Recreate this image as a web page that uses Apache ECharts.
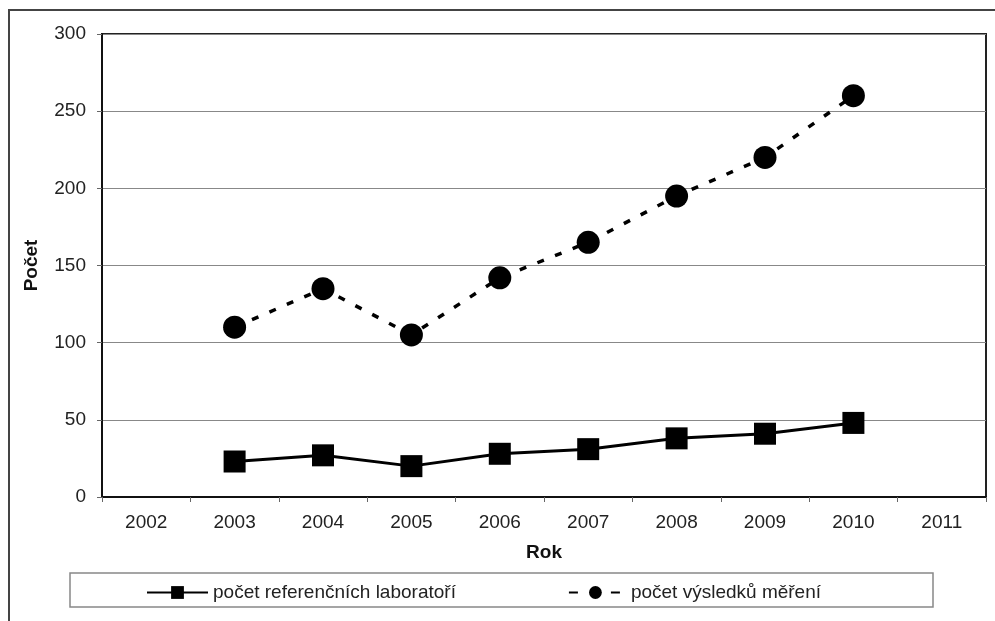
<!DOCTYPE html>
<html><head><meta charset="utf-8">
<script src="https://cdn.jsdelivr.net/npm/echarts@6/dist/echarts.min.js"></script>
<style>html,body{margin:0;padding:0;background:#fff}#c{width:995px;height:621px}</style>
</head><body><div id="c"></div>
<script>
const years = ['2002','2003','2004','2005','2006','2007','2008','2009','2010','2011'];
const labs = [null, 23, 27, 20, 28, 31, 38, 41, 48, null];
const results = [null, 110, 135, 105, 142, 165, 195, 220, 260, null];
const yTicks = [0, 50, 100, 150, 200, 250, 300];
const seriesNames = ['počet referenčních laboratoří', 'počet výsledků měření'];

const chart = echarts.init(document.getElementById('c'));
const font = 'Liberation Sans, Arial, sans-serif';
chart.setOption({
  backgroundColor: '#fff',
  animation: false,
  graphic: [
    {type:'rect', shape:{x:9, y:10, width:1000, height:700}, style:{fill:'none', stroke:'#444', lineWidth:2}, z:-1},
    {type:'rect', shape:{x:70, y:573, width:863, height:34}, style:{fill:'#fff', stroke:'#888', lineWidth:1.5}, z:0}
  ],
  grid: {left:102, right:9, top:34, bottom:124, show:true, borderColor:'#222', borderWidth:2},
  legend: {
    left: 141, top: 578, itemWidth: 61, itemHeight: 16, itemGap: 108,
    textStyle: {fontFamily: font, fontSize: 19, color: '#222'},
    data: [
      {name: seriesNames[0]},
      {name: seriesNames[1], lineStyle: {type: [9, 12], dashOffset: -4}}
    ]
  },
  xAxis: {
    type: 'category', data: years, boundaryGap: true,
    name: 'Rok', nameLocation: 'middle', nameGap: 46,
    nameTextStyle: {fontFamily: font, fontSize: 19, fontWeight: 'bold', color: '#111'},
    axisLine: {lineStyle: {color: '#111', width: 2}},
    axisTick: {show: true, length: 5, lineStyle: {color: '#666', width: 1}},
    axisLabel: {fontFamily: font, fontSize: 19, color: '#222', margin: 16}
  },
  yAxis: {
    type: 'value', min: 0, max: 300, interval: 50,
    name: 'Počet', nameLocation: 'middle', nameGap: 61,
    nameTextStyle: {fontFamily: font, fontSize: 19, fontWeight: 'bold', color: '#111'},
    axisLine: {show: true, lineStyle: {color: '#111', width: 2}},
    axisTick: {show: true, length: 5, lineStyle: {color: '#666', width: 1}},
    axisLabel: {fontFamily: font, fontSize: 19, color: '#222', margin: 16,
      formatter: v => yTicks.includes(v) ? String(v) : ''},
    splitLine: {lineStyle: {color: '#888', width: 1.2}}
  },
  series: [
    {name: seriesNames[0], type: 'line', data: labs, symbol: 'rect', symbolSize: 22,
     itemStyle: {color: '#000'}, lineStyle: {color: '#000', width: 3}},
    {name: seriesNames[1], type: 'line', data: results, symbol: 'circle', symbolSize: 23,
     itemStyle: {color: '#000'}, lineStyle: {color: '#000', width: 3.5, type: [7, 12]}}
  ]
});
</script></body></html>
